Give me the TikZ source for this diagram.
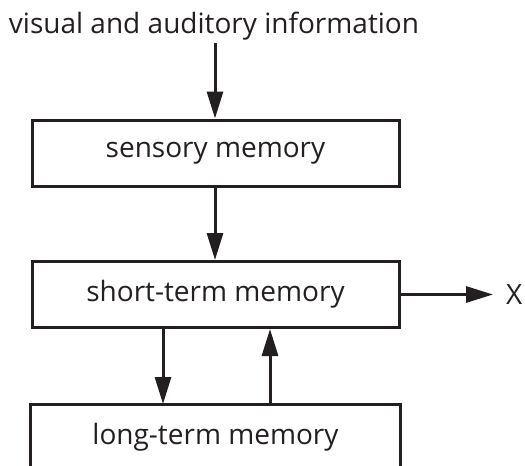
\documentclass[tikz,border=0pt]{standalone}
\usepackage{fontspec}
\setmainfont{Open Sans}
\usetikzlibrary{arrows.meta}
\definecolor{ink}{HTML}{231F20}
\begin{document}
\begin{tikzpicture}[x=1pt,y=-1pt,
  lbl/.style={font=\fontsize{28}{33}\selectfont, text=ink},
  membox/.style={lbl, draw=ink, line width=3pt, minimum width=367pt, minimum height=66pt, inner sep=0pt},
  arr/.style={line width=3pt, draw=ink, -{Triangle[length=27pt,width=16pt]}}]
\useasboundingbox (0,0) rectangle (525,466);
\node[lbl, anchor=base] (info) at (214,33) {visual and auditory information};
\coordinate (infoend) at (215,43);
\node[membox] (sens) at (215.5,153) {sensory memory};
\node[membox] (stm) at (215.5,294.5) {short-term memory};
\node[membox, draw=none, minimum height=80pt, anchor=north] (ltm) at (215.5,404) {};
\draw[draw=ink, line width=3pt] (ltm.south west) -- (ltm.north west) -- (ltm.north east) -- (ltm.south east);
\node[lbl] (ltmtext) at (215.5,437) {long-term memory};
\node[lbl, anchor=west, inner sep=0pt] (x) at (506,294.5) {X};
\coordinate (xtip) at (493,294.5);
\draw[arr] (infoend) -- (sens.north -| infoend);
\draw[arr] (sens.south -| infoend) -- (stm.north -| infoend);
\coordinate (dn) at (163,0);
\coordinate (up) at (270,0);
\draw[arr] (stm.south -| dn) -- (ltm.north -| dn);
\draw[arr] (ltm.north -| up) -- (stm.south -| up);
\draw[arr] (stm.east) -- (xtip);
\end{tikzpicture}
\end{document}
